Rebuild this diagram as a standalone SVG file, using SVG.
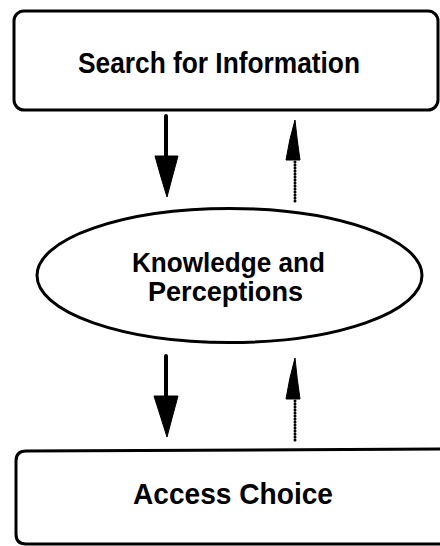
<svg xmlns="http://www.w3.org/2000/svg" width="440" height="546" viewBox="0 0 440 546">
  <style>
    .box { fill: #ffffff; stroke: #000000; stroke-width: 3; }
    .label { font-family: "Liberation Sans", Arial, sans-serif; font-size: 30px; font-weight: bold; fill: #000000; text-anchor: middle; }
    .two-line { font-size: 28px; }
    .shaft { stroke: #000000; stroke-width: 4; stroke-linecap: round; fill: none; }
    .dots { stroke: #000000; stroke-width: 3; stroke-linecap: round; stroke-dasharray: 0 3; fill: none; }
    .head { fill: #000000; stroke: #000000; stroke-width: 1; stroke-linejoin: round; }
  </style>
  <rect width="440" height="546" fill="#ffffff"/>

  <g id="search">
    <rect class="box" x="14" y="11" width="424" height="99" rx="10"/>
    <text class="label" x="219" y="73" textLength="282" lengthAdjust="spacingAndGlyphs">Search for Information</text>
  </g>

  <g id="knowledge">
    <ellipse class="box" cx="229.5" cy="275.5" rx="192.5" ry="67"/>
    <text class="label two-line" x="228.5" y="272" textLength="193" lengthAdjust="spacingAndGlyphs">Knowledge and</text>
    <text class="label two-line" x="225.5" y="301" textLength="155" lengthAdjust="spacingAndGlyphs">Perceptions</text>
  </g>

  <g id="access">
    <path class="box" d="M 448 449 L 26 451 Q 16 451 16 461 L 16 534 Q 16 544 26 544 L 448 544"/>
    <text class="label" x="233" y="504" textLength="200" lengthAdjust="spacingAndGlyphs">Access Choice</text>
  </g>

  <g id="connectors">
    <!-- search to knowledge: solid arrow down -->
    <line class="shaft" x1="166" y1="116" x2="166" y2="158"/>
    <path class="head" d="M 155 156 L 178 156 Q 172 178 167 197 Q 161 178 155 156 Z"/>
    <!-- knowledge to search: dotted arrow up -->
    <line class="dots" x1="295" y1="162" x2="295" y2="203"/>
    <path class="head" d="M 286 160 L 300 160 Q 297 140 295 120 Q 289 140 286 160 Z"/>

    <!-- knowledge to access: solid arrow down -->
    <line class="shaft" x1="166" y1="356" x2="166" y2="398"/>
    <path class="head" d="M 154 396 L 178 396 Q 172 418 167 437 Q 161 418 154 396 Z"/>
    <!-- access to knowledge: dotted arrow up -->
    <line class="dots" x1="295" y1="401" x2="295" y2="442"/>
    <path class="head" d="M 286 399 L 300 399 Q 297 379 295 358 Q 289 379 286 399 Z"/>
  </g>
</svg>
